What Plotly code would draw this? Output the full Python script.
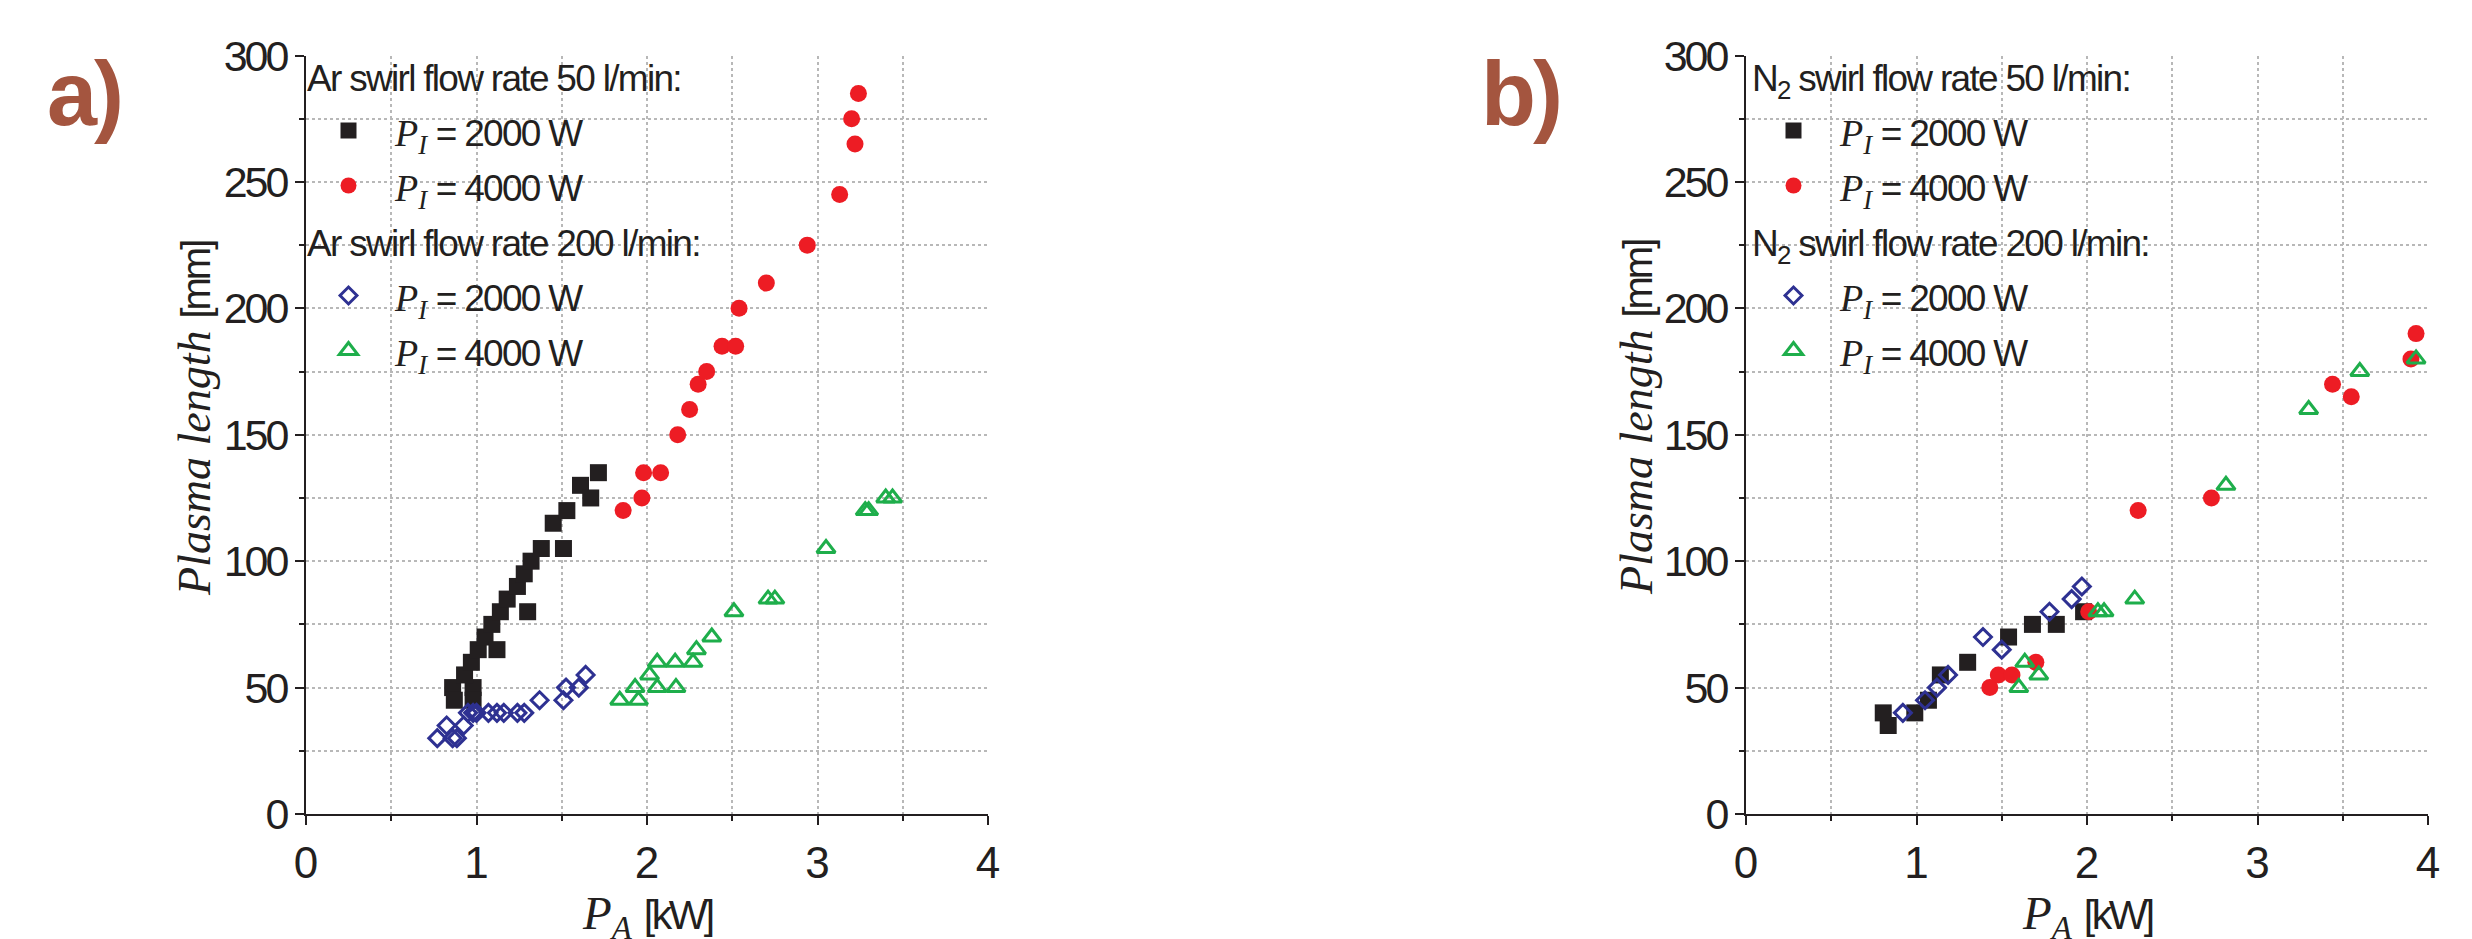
import plotly.graph_objects as go

# ---------------- data: panel a (Ar) ----------------
a_sq_x = [0.86, 0.87, 0.98, 0.98, 0.93, 0.97, 1.01, 1.05, 1.09, 1.14, 1.18, 1.12, 1.24, 1.28, 1.30, 1.32, 1.38, 1.45, 1.51, 1.53, 1.61, 1.67, 1.715]
a_sq_y = [50, 45, 50, 45, 55, 60, 65, 70, 75, 80, 85, 65, 90, 95, 80, 100, 105, 115, 105, 120, 130, 125, 135]

a_ci_x = [1.86, 1.97, 1.98, 2.08, 2.18, 2.25, 2.30, 2.35, 2.44, 2.52, 2.54, 2.70, 2.94, 3.13, 3.22, 3.20, 3.24]
a_ci_y = [120, 125, 135, 135, 150, 160, 170, 175, 185, 185, 200, 210, 225, 245, 265, 275, 285]

a_di_x = [0.77, 0.825, 0.86, 0.885, 0.925, 0.95, 0.98, 1.0, 1.07, 1.12, 1.16, 1.24, 1.28, 1.37, 1.51, 1.525, 1.60, 1.64]
a_di_y = [30, 35, 30, 30, 35, 40, 40, 40, 40, 40, 40, 40, 40, 45, 45, 50, 50, 55]

a_tr_x = [1.84, 1.93, 1.95, 2.015, 2.06, 2.06, 2.17, 2.165, 2.27, 2.29, 2.38, 2.51, 2.71, 2.75, 3.05, 3.28, 3.30, 3.40, 3.44]
a_tr_y = [45, 50, 45, 55, 50, 60, 50, 60, 60, 65, 70, 80, 85, 85, 105, 120, 120, 125, 125]

# ---------------- data: panel b (N2) ----------------
b_sq_x = [0.805, 0.834, 0.99, 1.07, 1.14, 1.30, 1.54, 1.68, 1.82, 1.98]
b_sq_y = [40, 35, 40, 45, 55, 60, 70, 75, 75, 80]

b_ci_x = [1.43, 1.48, 1.56, 1.70, 2.01, 2.30, 2.73, 3.44, 3.55, 3.90, 3.93]
b_ci_y = [50, 55, 55, 60, 80, 120, 125, 170, 165, 180, 190]

b_di_x = [0.92, 1.05, 1.12, 1.185, 1.39, 1.50, 1.78, 1.91, 1.97]
b_di_y = [40, 45, 50, 55, 70, 65, 80, 85, 90]

b_tr_x = [1.60, 1.635, 1.717, 2.064, 2.10, 2.28, 2.815, 3.30, 3.60, 3.93]
b_tr_y = [50, 60, 55, 80, 80, 85, 130, 160, 175, 180]

x_ticks = [0, 1, 2, 3, 4]
y_ticks = [0, 50, 100, 150, 200, 250, 300]

group_titles_a = ["Ar swirl flow rate 50 l/min:", "Ar swirl flow rate 200 l/min:"]
group_titles_b = ["N<sub>2</sub> swirl flow rate 50 l/min:", "N<sub>2</sub> swirl flow rate 200 l/min:"]
power_labels = ["2000 W", "4000 W"]

# ---------------- page geometry (page has an 8 px body margin) ----------------
OFF = 8
W, H = 2472 - OFF, 939 - OFF


def px_x(X):
    return (X - OFF) / W


def px_y(Y):
    return 1 - (Y - OFF) / H


# ---------------- styling ----------------
SANS = "Liberation Sans, Arial, sans-serif"
SERIF = "Liberation Serif, Times New Roman, serif"
INK = "#231F20"
BLACK = "#231F20"
RED = "#ED1C24"
BLUE = "#2E3192"
GREEN = "#1EAE4B"
BROWN = "#A4553F"
GRID = "#b8b8b8"

TIGHT = "letter-spacing:-1.7px;font-size:37px"


def tight(t):
    return '<span style="%s">%s</span>' % (TIGHT, t)


def pi_label(p):
    return ('<span style="font-family:%s;font-size:38px"><i>P</i><sub><i>I</i></sub></span>%s'
            % (SERIF, tight(" = " + p)))


fig = go.Figure()


def add_panel(xa, ya, legend, titles, gid, data):
    (sqx, sqy), (cix, ciy), (dix, diy), (trx, try_) = data
    specs = [
        (sqx, sqy, dict(symbol="square", size=17, color=BLACK), 0, 0),
        (cix, ciy, dict(symbol="circle", size=17, color=RED), 0, 1),
        (dix, diy, dict(symbol="diamond-open", size=13, color=BLUE, line=dict(width=3, color=BLUE)), 1, 0),
        (trx, try_, dict(symbol="triangle-up-open", size=16, color=GREEN, line=dict(width=3, color=GREEN)), 1, 1),
    ]
    for xs, ys, mk, g, p in specs:
        fig.add_trace(go.Scatter(
            x=xs, y=ys, mode="markers", marker=mk,
            xaxis=xa, yaxis=ya, legend=legend,
            legendgroup=f"{gid}{g}",
            legendgrouptitle=dict(text=tight(titles[g]), font=dict(family=SANS, size=40, color=INK)),
            name=pi_label(power_labels[p]),
            showlegend=True,
        ))


add_panel("x", "y", "legend", group_titles_a, "a", [(a_sq_x, a_sq_y), (a_ci_x, a_ci_y), (a_di_x, a_di_y), (a_tr_x, a_tr_y)])
add_panel("x2", "y2", "legend2", group_titles_b, "b", [(b_sq_x, b_sq_y), (b_ci_x, b_ci_y), (b_di_x, b_di_y), (b_tr_x, b_tr_y)])

TICKSTYLE = "letter-spacing:-3px"


def xaxis(x0, x1, anchor):
    return dict(
        domain=[px_x(x0), px_x(x1)], anchor=anchor, range=[0, 4], automargin=False,
        tickmode="array", tickvals=x_ticks, ticktext=[str(v) for v in x_ticks],
        ticks="outside", ticklen=9, tickwidth=2, tickcolor=INK,
        showline=True, linewidth=2, linecolor=INK, zeroline=False,
        showgrid=True, gridcolor=GRID, griddash="dot", gridwidth=1.5,
        minor=dict(dtick=0.5, tick0=0, ticks="outside", ticklen=5, tickwidth=2, tickcolor=INK,
                   showgrid=True, gridcolor=GRID, griddash="dot", gridwidth=1.5),
        tickfont=dict(family=SANS, size=44, color=INK),
        fixedrange=True,
    )


def yaxis(anchor):
    return dict(
        domain=[px_y(814), px_y(55.5)], anchor=anchor, range=[0, 300], automargin=False,
        tickmode="array", tickvals=y_ticks,
        ticktext=['<span style="%s">%d</span>' % (TICKSTYLE, v) for v in y_ticks],
        ticks="outside", ticklen=9, tickwidth=2, tickcolor=INK,
        showline=True, linewidth=2, linecolor=INK, zeroline=False,
        showgrid=True, gridcolor=GRID, griddash="dot", gridwidth=1.5,
        minor=dict(dtick=25, tick0=0, ticks="outside", ticklen=5, tickwidth=2, tickcolor=INK,
                   showgrid=True, gridcolor=GRID, griddash="dot", gridwidth=1.5),
        tickfont=dict(family=SANS, size=43, color=INK),
        fixedrange=True,
    )


def legend(X, Y):
    return dict(
        x=px_x(X), y=px_y(Y), xanchor="left", yanchor="top",
        bgcolor="rgba(0,0,0,0)", borderwidth=0,
        font=dict(family=SANS, size=40, color=INK),
        traceorder="grouped", tracegroupgap=0, itemwidth=83,
        grouptitlefont=dict(family=SANS, size=40, color=INK),
    )


ytitle = ('<span style="font-family:%s;font-size:46px"><i>Plasma length</i></span> '
          '<span style="font-size:40px;letter-spacing:-3px">[mm]</span>' % SERIF)
xtitle = ('<span style="font-family:%s;font-size:47px"><i>P</i><sub><i>A</i></sub></span> '
          '<span style="font-size:41px;letter-spacing:-3.5px">[kW]</span>' % SERIF)

annotations = [
    dict(text=ytitle, x=px_x(195), y=px_y(418), textangle=-90),
    dict(text=ytitle, x=px_x(1637), y=px_y(418), textangle=-90),
    dict(text=xtitle, x=px_x(647), y=px_y(916)),
    dict(text=xtitle, x=px_x(2087), y=px_y(916)),
]
for an in annotations:
    an.update(xref="paper", yref="paper", xanchor="center", yanchor="middle", showarrow=False,
              font=dict(family=SANS, size=43, color=INK))

for lab, X in (("a)", 45), ("b)", 1479)):
    annotations.append(dict(text='<span style="letter-spacing:-3px"><b>%s</b></span>' % lab,
                            x=px_x(X), y=px_y(94), xref="paper", yref="paper",
                            xanchor="left", yanchor="middle", showarrow=False,
                            font=dict(family="Liberation Sans, Arial, sans-serif", size=90, color=BROWN)))

fig.update_layout(
    width=W, height=H,
    margin=dict(l=0, r=0, t=0, b=0, pad=0, autoexpand=False),
    paper_bgcolor="white", plot_bgcolor="white",
    xaxis=xaxis(306, 988, "y"),
    yaxis=yaxis("x"),
    xaxis2=xaxis(1746, 2428, "y2"),
    yaxis2=yaxis("x2"),
    legend=legend(302, 43),
    legend2=legend(1747, 43),
    annotations=annotations,
    showlegend=True,
)

fig.write_html("out.html")
